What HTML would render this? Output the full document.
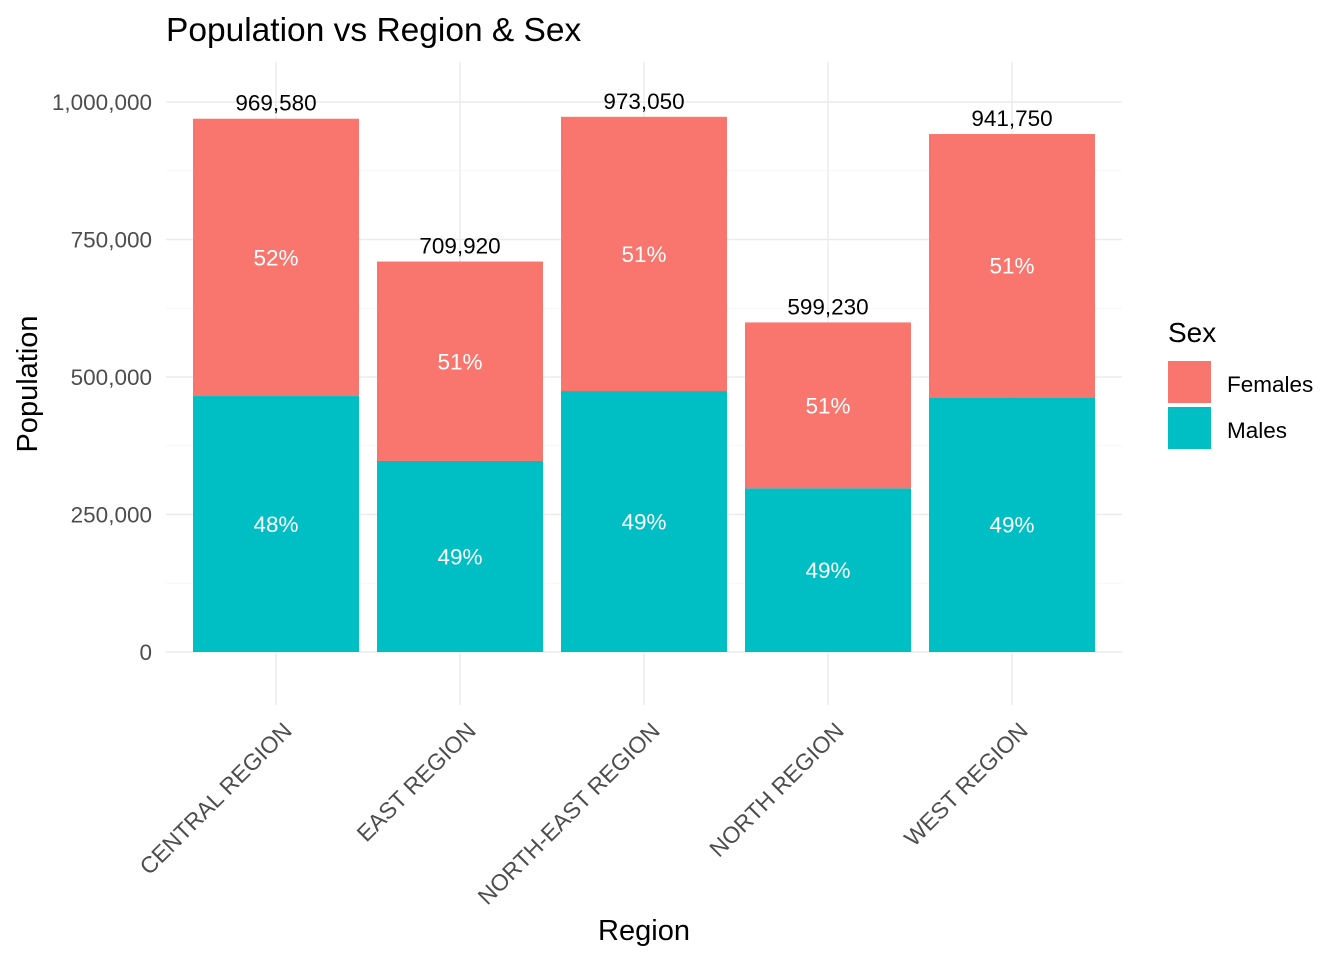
<!DOCTYPE html>
<html><head><meta charset="utf-8"><style>
body{margin:0;background:#fff;}
svg{display:block;font-family:"Liberation Sans",Arial,sans-serif;}
</style></head><body>
<svg id="chart" width="1344" height="960">
<text x="166" y="41" font-size="33.5" fill="#000">Population vs Region &amp; Sex</text>
<g id="grid"></g>
<g id="bars"></g>
<g id="labels"></g>
<text transform="translate(37,384) rotate(-90)" text-anchor="middle" font-size="29" fill="#000">Population</text>
<text x="644" y="940" text-anchor="middle" font-size="29" fill="#000">Region</text>
<g>
<text x="1168" y="342" font-size="28" fill="#000">Sex</text>
<rect x="1168" y="361" width="43" height="42" fill="#F8766D"/>
<text x="1227" y="392" font-size="22.5" fill="#000">Females</text>
<rect x="1168" y="407" width="43" height="42" fill="#00BFC4"/>
<text x="1227" y="438" font-size="22.5" fill="#000">Males</text>
</g>
</svg>
<script>
const categories=["CENTRAL REGION","EAST REGION","NORTH-EAST REGION","NORTH REGION","WEST REGION"];
const totals=[969580,709920,973050,599230,941750];
const males=[465400,347300,474500,297500,463000];
const malePct=["48%","49%","49%","49%","49%"];
const femalePct=["52%","51%","51%","51%","51%"];
const yTicks=[0,250000,500000,750000,1000000];
const NS="http://www.w3.org/2000/svg";
const y0=652,yScale=550/1e6;
const y=v=>y0-v*yScale;
const x=i=>276+i*184;
const bw=166;
function mk(tag,attrs,parent,txt){const e=document.createElementNS(NS,tag);for(const k in attrs)e.setAttribute(k,attrs[k]);if(txt!==undefined)e.textContent=txt;parent.appendChild(e);return e;}
const grid=document.getElementById('grid'),bars=document.getElementById('bars'),labels=document.getElementById('labels');
for(let i=0;i<yTicks.length;i++){
  const g=mk('line',{x1:166,x2:1122,y1:y(yTicks[i]),y2:y(yTicks[i]),stroke:'#ebebeb','stroke-width':1.4},grid);
  
  
  if(i<yTicks.length-1){
    const m=mk('line',{x1:166,x2:1122,y1:y((yTicks[i]+yTicks[i+1])/2),y2:y((yTicks[i]+yTicks[i+1])/2),stroke:'#f3f3f3','stroke-width':0.8},grid);
    
    
  }
  const t=mk('text',{x:152,y:y(yTicks[i])+8,'text-anchor':'end','font-size':22.5,fill:'#4d4d4d'},labels,yTicks[i].toLocaleString('en-US'));
  
  
}
categories.forEach((c,i)=>{
  const g=mk('line',{x1:x(i),x2:x(i),y1:62,y2:705,stroke:'#ebebeb','stroke-width':1.4},grid);
  
  
  const f=totals[i]-males[i];
  const rm=mk('rect',{x:x(i)-bw/2,y:y(males[i]),width:bw,height:males[i]*yScale,fill:'#00BFC4'},bars);
  
  
  const rf=mk('rect',{x:x(i)-bw/2,y:y(totals[i]),width:bw,height:f*yScale,fill:'#F8766D'},bars);
  
  
  const tt=mk('text',{x:x(i),y:y(totals[i])-8,'text-anchor':'middle','font-size':22.5,fill:'#000'},labels,totals[i].toLocaleString('en-US'));
  
  
  const pm=mk('text',{x:x(i),y:y(males[i]/2)+8,'text-anchor':'middle','font-size':22.5,fill:'#fff'},labels,malePct[i]);
  
  
  const pf=mk('text',{x:x(i),y:y(males[i]+f/2)+8,'text-anchor':'middle','font-size':22.5,fill:'#fff'},labels,femalePct[i]);
  
  
  const xl=mk('text',{transform:`translate(${x(i)+5},${720}) rotate(-45)`,'text-anchor':'end','font-size':23,fill:'#4d4d4d',dy:'0.75em'},labels,c);
  
  
});
</script>
</body></html>
